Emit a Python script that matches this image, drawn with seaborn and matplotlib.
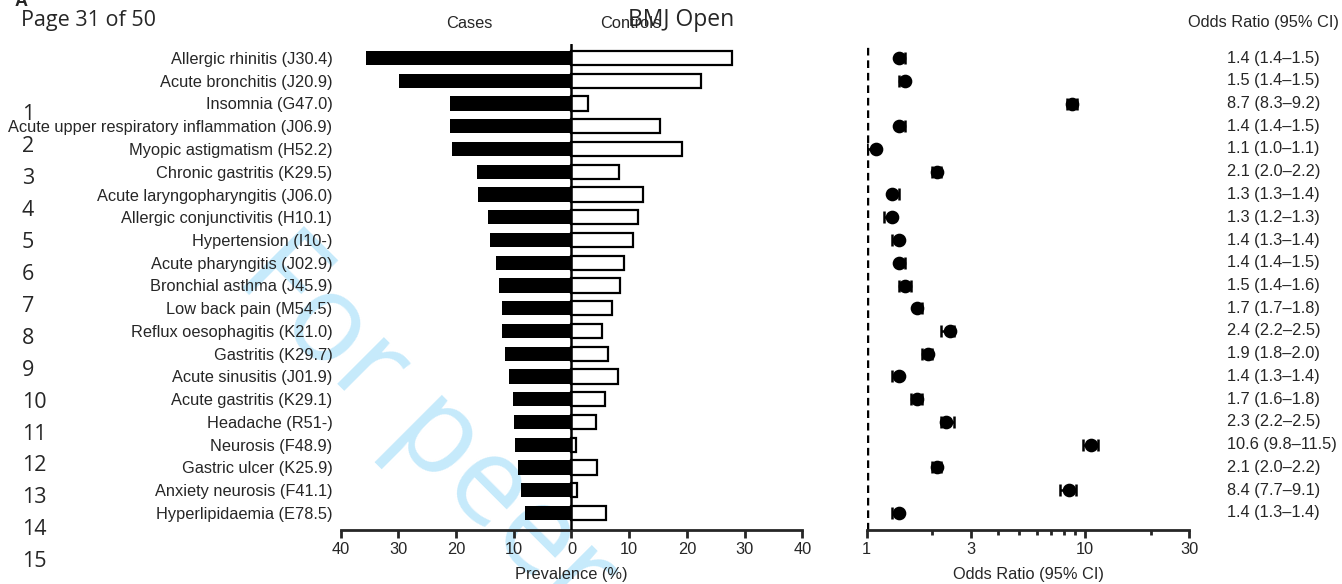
import numpy as np
import pandas as pd
import matplotlib
matplotlib.use("Agg")
import matplotlib.pyplot as plt
import seaborn as sns
from matplotlib.transforms import blended_transform_factory
from matplotlib.ticker import FixedLocator, NullFormatter

# ---- data -----------------------------------------------------------------
diseases = [
    "Allergic rhinitis (J30.4)",
    "Acute bronchitis (J20.9)",
    "Insomnia (G47.0)",
    "Acute upper respiratory inflammation (J06.9)",
    "Myopic astigmatism (H52.2)",
    "Chronic gastritis (K29.5)",
    "Acute laryngopharyngitis (J06.0)",
    "Allergic conjunctivitis (H10.1)",
    "Hypertension (I10-)",
    "Acute pharyngitis (J02.9)",
    "Bronchial asthma (J45.9)",
    "Low back pain (M54.5)",
    "Reflux oesophagitis (K21.0)",
    "Gastritis (K29.7)",
    "Acute sinusitis (J01.9)",
    "Acute gastritis (K29.1)",
    "Headache (R51-)",
    "Neurosis (F48.9)",
    "Gastric ulcer (K25.9)",
    "Anxiety neurosis (F41.1)",
    "Hyperlipidaemia (E78.5)",
]
cases_pct = [35.6, 29.9, 21.1, 21.0, 20.7, 16.3, 16.2, 14.5, 14.2, 13.0, 12.6,
             12.1, 12.0, 11.5, 10.9, 10.1, 10.0, 9.8, 9.2, 8.7, 8.1]
controls_pct = [27.8, 22.4, 2.8, 15.3, 19.2, 8.3, 12.4, 11.6, 10.6, 9.1, 8.4,
                7.1, 5.3, 6.3, 8.1, 5.8, 4.3, 0.8, 4.4, 0.9, 5.9]
odds_ratio = [1.4, 1.5, 8.7, 1.4, 1.1, 2.1, 1.3, 1.3, 1.4, 1.4, 1.5,
              1.7, 2.4, 1.9, 1.4, 1.7, 2.3, 10.6, 2.1, 8.4, 1.4]
ci_low = [1.4, 1.4, 8.3, 1.4, 1.0, 2.0, 1.3, 1.2, 1.3, 1.4, 1.4,
          1.7, 2.2, 1.8, 1.3, 1.6, 2.2, 9.8, 2.0, 7.7, 1.3]
ci_high = [1.5, 1.5, 9.2, 1.5, 1.1, 2.2, 1.4, 1.3, 1.4, 1.5, 1.6,
           1.8, 2.5, 2.0, 1.4, 1.8, 2.5, 11.5, 2.2, 9.1, 1.4]

prev_ticks = [-40, -30, -20, -10, 0, 10, 20, 30, 40]
or_ticks = [1, 3, 10, 30]
or_minor = [2, 4, 5, 6, 7, 8, 9, 20]

df = pd.DataFrame({
    "disease": diseases,
    "cases": cases_pct,
    "controls": controls_pct,
    "odds": odds_ratio,
    "lo": ci_low,
    "hi": ci_high,
})
df["cases_left"] = -df["cases"]

# ---- style ------------------------------------------------------------------
sns.set_style("ticks")
plt.rcParams["font.family"] = ["Liberation Sans", "DejaVu Sans"]
plt.rcParams["axes.linewidth"] = 2.0
FS = 11.8

W, H = 1342, 584
fig = plt.figure(figsize=(W / 100, H / 100), dpi=100)


def fx(px):
    return px / W


def fy(py):
    return 1 - py / H


ax_top, ax_bot = 44, 530
row0, row_step = 58, 22.75
n = len(diseases)
y_top = -(row0 - ax_top) / row_step
y_bot = (n - 1) + (ax_bot - (row0 + (n - 1) * row_step)) / row_step

ax1 = fig.add_axes([fx(340.7), fy(ax_bot), fx(802.3) - fx(340.7), fy(ax_top) - fy(ax_bot)])
ax2 = fig.add_axes([fx(866.7), fy(ax_bot), fx(1189.3) - fx(866.7), fy(ax_top) - fy(ax_bot)])
for ax in (ax1, ax2):
    ax.set_facecolor("none")

# ---- watermark --------------------------------------------------------------
fig.text(fx(233), fy(279), "For peer review only", rotation=-45,
         rotation_mode="anchor", ha="left", va="baseline", fontsize=88,
         family=["Open Sans", "DejaVu Sans"], color="#C6EAFB", zorder=-5)

# ---- prevalence bars -------------------------------------------------------
sns.barplot(data=df, x="cases_left", y="disease", orient="h", color="black",
            saturation=1, width=0.63, linewidth=0, ax=ax1)
sns.barplot(data=df, x="controls", y="disease", orient="h", color="white",
            saturation=1, width=0.63, edgecolor="black", linewidth=1.6, ax=ax1)
ax1.axvline(0, color="black", lw=1.8, zorder=5)
ax1.set_xlim(-40, 40)
ax1.set_ylim(y_bot, y_top)
ax1.set_xticks(prev_ticks)
ax1.set_xticklabels([str(abs(t)) for t in prev_ticks])
ax1.set_xlabel("Prevalence (%)", fontsize=FS, labelpad=7)
ax1.set_ylabel("")
ax1.tick_params(axis="y", length=0, pad=6, labelsize=FS)
ax1.tick_params(axis="x", length=6, width=2, pad=3, labelsize=FS)
for s in ("top", "right", "left"):
    ax1.spines[s].set_visible(False)

# ---- odds ratio forest ------------------------------------------------------
ax2.set_xscale("log")
sns.pointplot(data=df, x="odds", y="disease", orient="h", linestyle="none",
              color="black", markers="o", markersize=7.8, errorbar=None, ax=ax2)
ypos = np.arange(n)
ax2.errorbar(df["odds"], ypos,
             xerr=[df["odds"] - df["lo"], df["hi"] - df["odds"]],
             fmt="none", ecolor="black", elinewidth=1.8, capsize=4.5,
             capthick=1.8, zorder=4)
ax2.axvline(1, color="black", lw=2.5, linestyle=(0, (2.2, 1.4)), zorder=1)
ax2.set_xlim(1, 30)
ax2.set_ylim(y_bot, y_top)
ax2.xaxis.set_major_locator(FixedLocator(or_ticks))
ax2.set_xticklabels([str(t) for t in or_ticks])
ax2.xaxis.set_minor_locator(FixedLocator(or_minor))
ax2.xaxis.set_minor_formatter(NullFormatter())
ax2.set_yticks([])
ax2.set_ylabel("")
ax2.set_xlabel("Odds Ratio (95% CI)", fontsize=FS, labelpad=7)
ax2.tick_params(axis="x", which="major", length=6, width=2, pad=3, labelsize=FS)
ax2.tick_params(axis="x", which="minor", length=3.5, width=2)
for s in ("top", "right", "left"):
    ax2.spines[s].set_visible(False)

# odds ratio text column
tr = blended_transform_factory(fig.transFigure, ax2.transData)
for i, (o, lo, hi) in enumerate(zip(odds_ratio, ci_low, ci_high)):
    ax2.text(fx(1227), i, f"{o:.1f} ({lo:.1f}\u2013{hi:.1f})", transform=tr,
             ha="left", va="center", fontsize=FS, clip_on=False)

# ---- headers ---------------------------------------------------------------
fig.text(fx(469), fy(23), "Cases", ha="center", va="center", fontsize=FS)
fig.text(fx(631), fy(23), "Controls", ha="center", va="center", fontsize=FS)
fig.text(fx(1188), fy(23), "Odds Ratio (95% CI)", ha="left", va="center", fontsize=FS)

# page furniture
page_font = ["Open Sans", "DejaVu Sans"]
fig.text(fx(15), fy(6), "A", ha="left", va="baseline", fontsize=13,
         fontweight="bold", family=["Liberation Sans", "DejaVu Sans"])
fig.text(fx(21), fy(26), "Page 31 of 50", ha="left", va="baseline", fontsize=15.5,
         family=page_font)
fig.text(fx(628), fy(26), "BMJ Open", ha="left", va="baseline", fontsize=16.5,
         family=page_font)
for k in range(1, 16):
    fig.text(fx(22), fy(115 + (k - 1) * 31.9), str(k), ha="left", va="center",
             fontsize=15.5, family=page_font)

fig.savefig("out.png", dpi=100)
